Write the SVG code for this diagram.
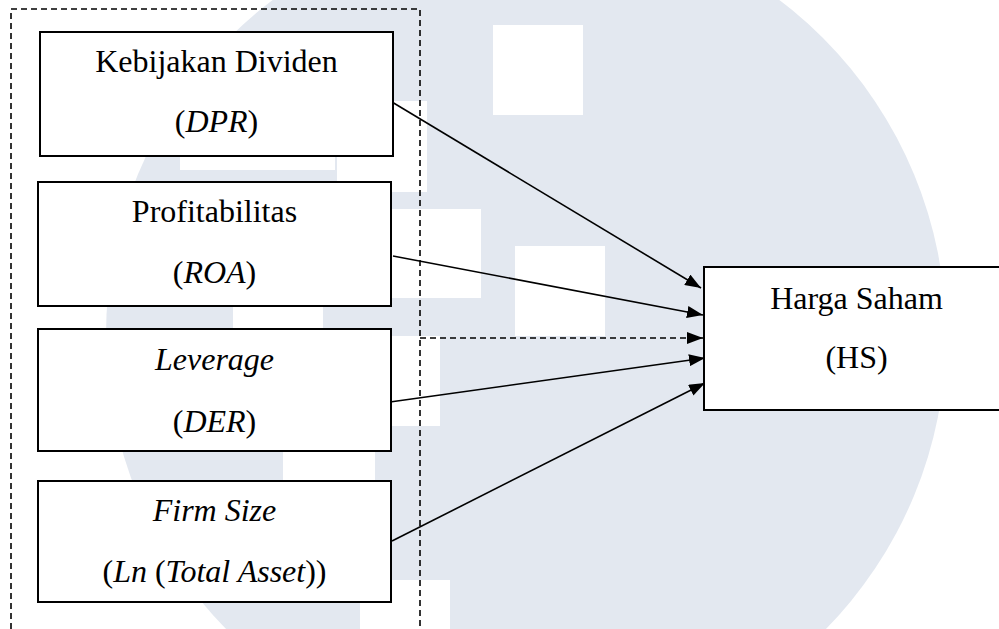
<svg xmlns="http://www.w3.org/2000/svg" width="999" height="629" viewBox="0 0 999 629">
  <style>
    .box { fill: #ffffff; stroke: #000000; stroke-width: 2; }
    text { font-size: 32px; fill: #000000; text-anchor: middle; }
    .it { font-style: italic; }
    .conn { stroke: #000000; stroke-width: 1.6; fill: none; }
    .dash { stroke: #000000; stroke-width: 1.6; fill: none; stroke-dasharray: 6 4; }
    .wm { fill: #e3e8f0; }
    .wh { fill: #ffffff; }
  </style>
  <defs>
    <marker id="arrow" markerUnits="userSpaceOnUse" markerWidth="16" markerHeight="12" refX="16" refY="6" orient="auto">
      <path d="M0,0 L16,6 L0,12 z" fill="#000000"/>
    </marker>
  </defs>

  <rect x="0" y="0" width="999" height="629" fill="#ffffff"/>

  <g id="watermark">
    <circle class="wm" cx="526" cy="335" r="420"/>
    <rect class="wh" x="493" y="25" width="90" height="90"/>
    <rect class="wh" x="515" y="246" width="90" height="90"/>
    <rect class="wh" x="391" y="209" width="90" height="89"/>
    <rect class="wh" x="337" y="101" width="90" height="91"/>
    <rect class="wh" x="180" y="80" width="155" height="90"/>
    <rect class="wh" x="233" y="240" width="90" height="90"/>
    <rect class="wh" x="350" y="336" width="90" height="90"/>
    <rect class="wh" x="283" y="430" width="92" height="90"/>
    <rect class="wh" x="360" y="580" width="90" height="90"/>
  </g>

  <g id="group-boundary">
    <path class="dash" d="M11,629 V9 H420 V629"/>
  </g>

  <g id="connectors">
    <line class="conn" x1="387" y1="99" x2="701" y2="288" marker-end="url(#arrow)"/>
    <line class="conn" x1="393" y1="256" x2="703" y2="315" marker-end="url(#arrow)"/>
    <line class="dash" x1="420" y1="338" x2="703" y2="338" marker-end="url(#arrow)"/>
    <line class="conn" x1="390" y1="402" x2="705" y2="358" marker-end="url(#arrow)"/>
    <line class="conn" x1="392" y1="541" x2="705" y2="383" marker-end="url(#arrow)"/>
  </g>

  <g id="node-dpr">
    <rect class="box" x="40" y="32" width="353" height="124"/>
    <text x="216.5" y="72" font-family="Liberation Serif">Kebijakan Dividen</text>
    <text x="216.5" y="132" font-family="Times New Roman">(<tspan class="it">DPR</tspan>)</text>
  </g>

  <g id="node-roa">
    <rect class="box" x="38" y="182" width="353" height="124"/>
    <text x="214.5" y="222" font-family="serif">Profitabilitas</text>
    <text x="214.5" y="283" font-family="Times New Roman">(<tspan class="it">ROA</tspan>)</text>
  </g>

  <g id="node-der">
    <rect class="box" x="38" y="329" width="353" height="122"/>
    <text class="it" x="214.5" y="370" font-family="Liberation Serif">Leverage</text>
    <text x="214.5" y="432" font-family="serif">(<tspan class="it">DER</tspan>)</text>
  </g>

  <g id="node-firmsize">
    <rect class="box" x="38" y="481" width="353" height="121"/>
    <text class="it" x="214.5" y="521" font-family="Liberation Serif">Firm Size</text>
    <text x="214.5" y="582" font-family="Times New Roman">(<tspan class="it">Ln</tspan> (<tspan class="it">Total Asset</tspan>))</text>
  </g>

  <g id="node-hs">
    <rect class="box" x="704" y="267" width="310" height="143"/>
    <text x="856.5" y="309" font-family="serif">Harga Saham</text>
    <text x="856.5" y="368" font-family="Liberation Serif">(HS)</text>
  </g>
</svg>
